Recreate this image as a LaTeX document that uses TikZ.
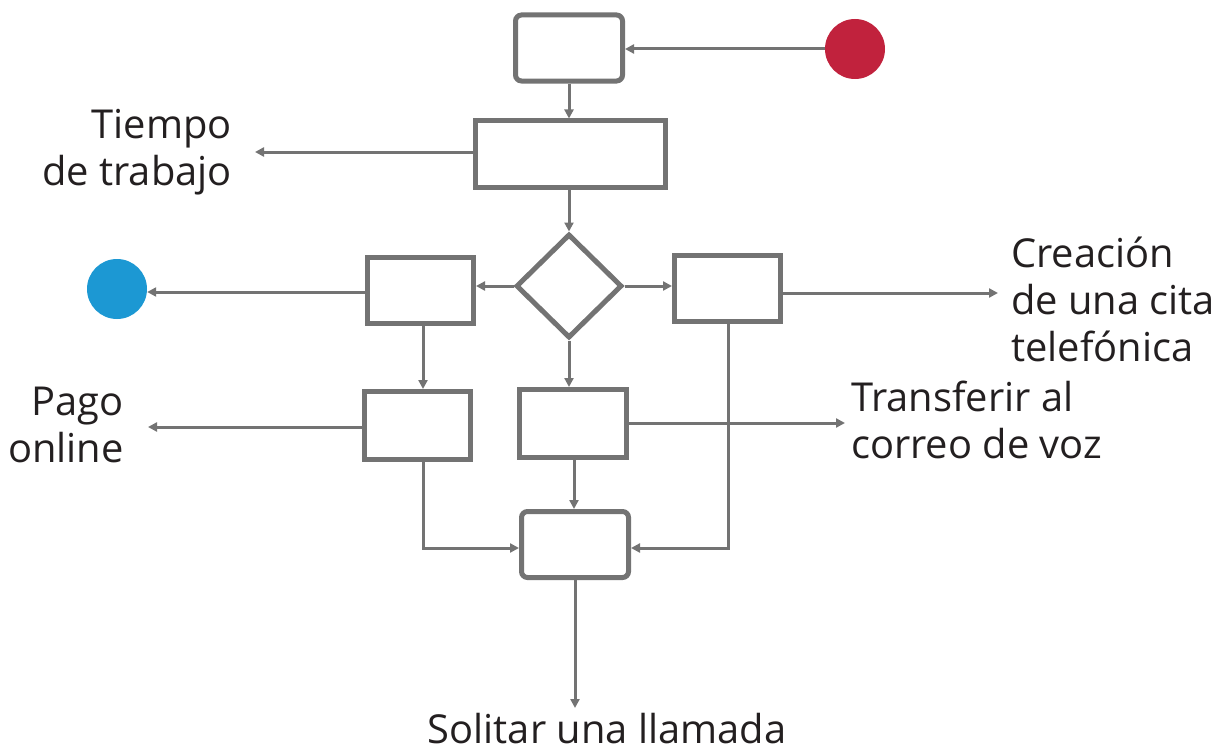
\documentclass[tikz,border=0pt]{standalone}
\usepackage{fontspec}
\setmainfont{Open Sans}
\usetikzlibrary{arrows.meta,shapes.geometric}
\definecolor{linegray}{HTML}{737373}
\definecolor{txt}{HTML}{231F20}
\definecolor{redc}{HTML}{C1223D}
\definecolor{bluec}{HTML}{1C98D3}
\begin{document}
\begin{tikzpicture}[x=1bp,y=-1bp,
  box/.style={draw=linegray,line width=5bp,minimum width=#1,minimum height=66bp,inner sep=0pt,fill=white},
  box/.default=107bp,
  rbox/.style={box,rounded corners=6bp},
  arr/.style={draw=linegray,line width=3bp,-{Triangle[length=9bp,width=9bp]}},
  lbl/.style={font=\fontsize{40}{47}\selectfont,text=txt,inner sep=0pt},
  dot/.style={circle,minimum size=60bp,inner sep=0pt}]
\useasboundingbox (0,0) rectangle (1221,751);
% nodes
\node[rbox] (top) at (569,48) {};
\node[box=190bp] (b2) at (570.5,154) {};
\node[diamond,draw=linegray,line width=5bp,minimum width=106bp,minimum height=104bp,inner sep=0pt,aspect=1] (dia) at (569,286) {};
\node[box=106bp] (l1) at (420.5,290.5) {};
\node[box=106bp] (r1) at (727.5,288.5) {};
\node[box=106bp,minimum height=68bp] (l2) at (417.5,425.5) {};
\node[box,minimum height=68bp] (m2) at (573,423.5) {};
\node[rbox] (bot) at (575,544.5) {};
\node[dot,fill=redc] (red) at (855,49) {};
\node[dot,fill=bluec] (blue) at (117,289) {};
% labels (base anchor = baseline of last line)
\node[lbl,align=right,anchor=base east] (tiempo) at (232,185) {Tiempo\\de trabajo};
\node[lbl,align=left,anchor=base west] (crea) at (1011,361) {Creación\\de una cita\\telefónica};
\node[lbl,align=right,anchor=base east] (pago) at (124,462) {Pago\\online};
\node[lbl,align=left,anchor=base west] (trans) at (851,458) {Transferir al\\correo de voz};
\node[lbl,anchor=base] (sol) at (607,743) {Solitar una llamada};
% free ends
\coordinate (eT) at (255,152);
\coordinate (eC) at (998,293);
\coordinate (eP) at (148,427);
\coordinate (eV) at (845,423);
\coordinate (eS) at (575,708);
% connectors
\draw[arr] (red.west) -- (red.west -| top.east);
\draw[arr] (top.south) -- (top.south |- b2.north);
\draw[arr] (b2.west |- eT) -- (eT);
\draw[arr] (dia.north |- b2.south) -- (dia.north);
\draw[arr] (dia.west) -- (dia.west -| l1.east);
\draw[arr] (dia.east) -- (dia.east -| r1.west);
\draw[arr] (l1.west |- 0,292) -- (blue.east |- 0,292);
\draw[arr] (r1.east |- eC) -- (eC);
\draw[arr] (423,0 |- l1.south) -- (423,0 |- l2.north);
\draw[arr] (l2.west |- eP) -- (eP);
\draw[arr] (dia.south) -- (dia.south |- m2.north);
\draw[arr] (m2.east |- eV) -- (eV);
\draw[arr] (m2.south -| 574,0) -- (bot.north -| 574,0);
\draw[arr] (423,0 |- l2.south) |- (bot.west |- 0,548);
\draw[arr] (728,0 |- r1.south) |- (bot.east |- 0,548);
\draw[arr] (bot.south) -- (eS);
\end{tikzpicture}
\end{document}
